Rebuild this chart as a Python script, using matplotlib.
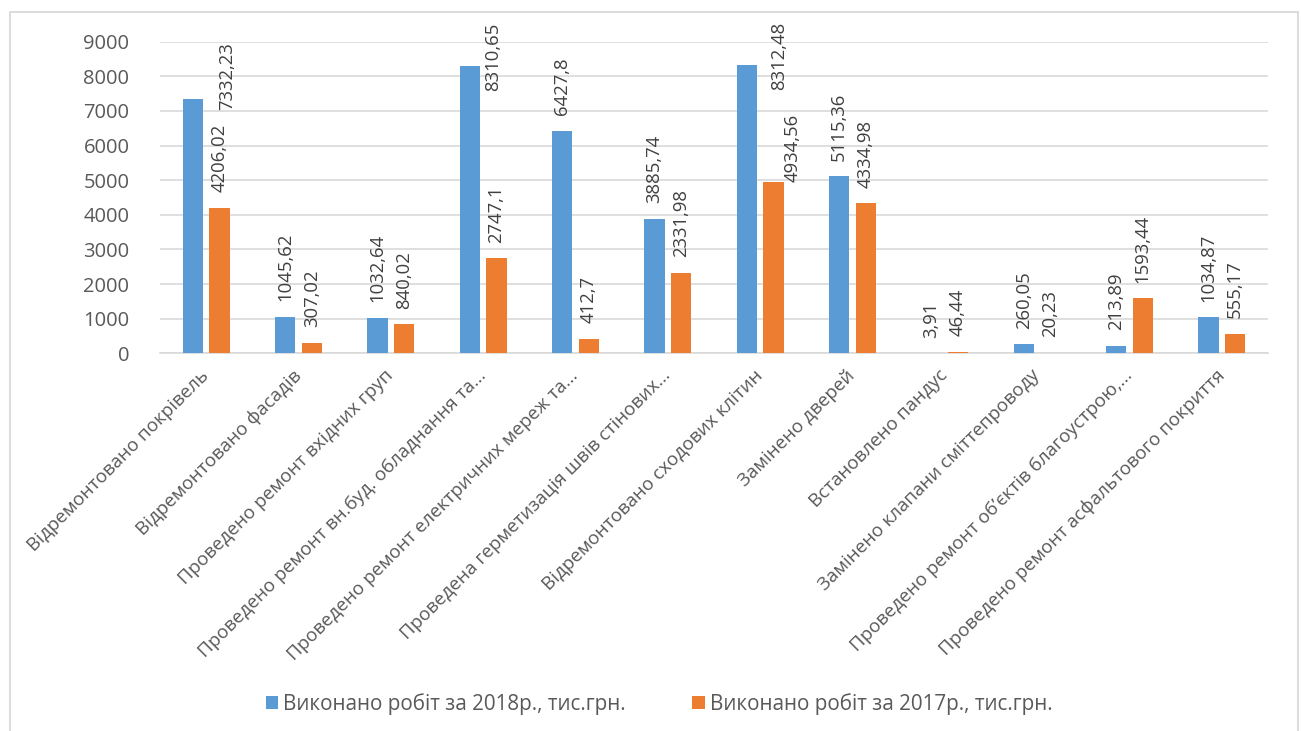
import matplotlib
matplotlib.use("Agg")
import matplotlib.pyplot as plt
from matplotlib.patches import Patch, Rectangle
import numpy as np

categories = [
    "Відремонтовано покрівель",
    "Відремонтовано фасадів",
    "Проведено ремонт вхідних груп",
    "Проведено ремонт вн.буд. обладнання та...",
    "Проведено ремонт електричних мереж та...",
    "Проведена герметизація швів стінових...",
    "Відремонтовано сходових клітин",
    "Замінено дверей",
    "Встановлено пандус",
    "Замінено клапани сміттепроводу",
    "Проведено ремонт об’єктів благоустрою,...",
    "Проведено ремонт асфальтового покриття",
]
works_2018 = [7332.23, 1045.62, 1032.64, 8310.65, 6427.8, 3885.74,
              8312.48, 5115.36, 3.91, 260.05, 213.89, 1034.87]
works_2017 = [4206.02, 307.02, 840.02, 2747.1, 412.7, 2331.98,
              4934.56, 4334.98, 46.44, 20.23, 1593.44, 555.17]
series_names = ["Виконано робіт за 2018р., тис.грн.",
                "Виконано робіт за 2017р., тис.грн."]
yticks = [0, 1000, 2000, 3000, 4000, 5000, 6000, 7000, 8000, 9000]

BLUE = "#5B9BD5"
ORANGE = "#ED7D31"
GRID = "#d9d9d9"
TEXT = "#595959"

# Excel moved a few labels aside so they would not leave the plot area
# (series index, category index) -> (dx px, dy px) from the bar top
label_nudge = {
    (0, 0): (34, -11),
    (0, 3): (23, -25),
    (0, 6): (32, -25),
    (1, 6): (19, 0),
}

plt.rcParams["font.family"] = ["Open Sans", "DejaVu Sans"]

fig = plt.figure(figsize=(13.01, 7.31), dpi=100)
ax = fig.add_axes([0.123, 0.5167, 0.8516, 0.4263])

# chart border
fig.patches.append(Rectangle((0.0077, -0.2), 0.99, 1.183, transform=fig.transFigure,
                             fill=False, edgecolor=GRID, lw=1.3, zorder=0))

x = np.arange(len(categories))
width = 0.22
offs = [-0.144, 0.144]
colors = [BLUE, ORANGE]

for s, (vals, col) in enumerate(zip([works_2018, works_2017], colors)):
    bars = ax.bar(x + offs[s], vals, width, color=col, zorder=3)
    for i, b in enumerate(bars):
        dx, dy = label_nudge.get((s, i), (0, 15.6))
        ax.annotate(f"{vals[i]:g}".replace(".", ","),
                    xy=(b.get_x() + b.get_width() / 2, b.get_height()),
                    xytext=(dx, dy), textcoords="offset pixels",
                    rotation=90, ha="center", va="bottom",
                    fontsize=13.3, color="#404040", annotation_clip=False)

ax.set_xlim(-0.5, len(categories) - 0.5)
ax.set_ylim(0, 9000)
ax.set_yticks(yticks)
ax.yaxis.grid(True, color=GRID, lw=1.2, zorder=0)
ax.set_axisbelow(True)
for sp in ["top", "right", "left"]:
    ax.spines[sp].set_visible(False)
ax.spines["bottom"].set_color(GRID)
ax.spines["bottom"].set_linewidth(1.2)

ax.tick_params(axis="y", length=0, pad=22, labelsize=14.5, labelcolor=TEXT)
ax.tick_params(axis="x", length=0, pad=14, labelsize=13.5, labelcolor=TEXT)
ax.set_xticks(x)
ax.set_xticklabels(categories, rotation=45, ha="right", va="center",
                   rotation_mode="anchor")

handles = [Patch(facecolor=c, edgecolor="none") for c in colors]
fig.legend(handles, series_names, loc="center", bbox_to_anchor=(0.5066, 0.037),
           ncol=2, frameon=False, fontsize=14.9, labelcolor=TEXT,
           handlelength=0.6, handleheight=0.6, handletextpad=0.25,
           columnspacing=3.2)

fig.savefig("out.png", dpi=100)
